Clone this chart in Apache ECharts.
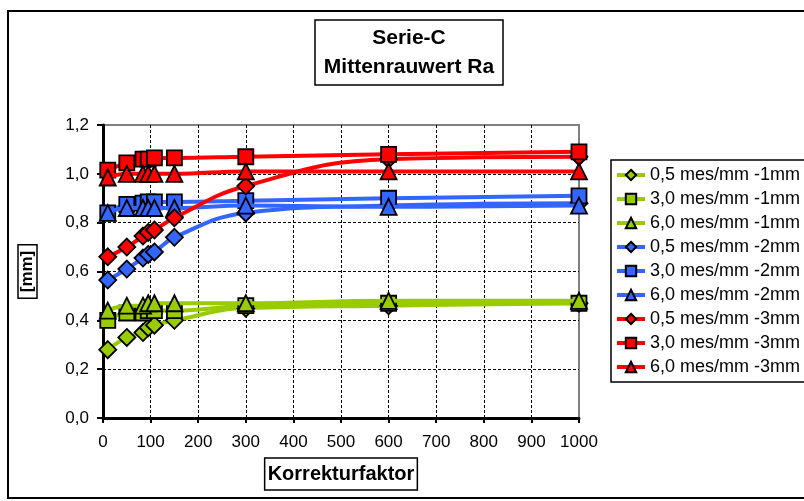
<!DOCTYPE html>
<html>
<head>
<meta charset="utf-8">
<script src="https://cdn.jsdelivr.net/npm/echarts@6/dist/echarts.min.js"></script>
<style>
  html, body { margin: 0; padding: 0; background: #fff; }
  #chart { width: 804px; height: 501px; }
</style>
</head>
<body>
<div id="chart"></div>
<script>
// ---- data ----
const xValues = [10, 50, 84, 95, 108, 150, 300, 600, 1000];

const seriesNames = [
  '0,5 mes/mm -1mm', '3,0 mes/mm -1mm', '6,0 mes/mm -1mm',
  '0,5 mes/mm -2mm', '3,0 mes/mm -2mm', '6,0 mes/mm -2mm',
  '0,5 mes/mm -3mm', '3,0 mes/mm -3mm', '6,0 mes/mm -3mm'
];

const green05 = [0.28, 0.33, 0.35, 0.37, 0.38, 0.40, 0.45, 0.46, 0.47];
const green30 = [0.40, 0.43, 0.43, 0.44, 0.44, 0.44, 0.46, 0.47, 0.47];
const green60 = [0.44, 0.46, 0.46, 0.47, 0.47, 0.47, 0.47, 0.48, 0.48];

const blue05 = [0.565, 0.61, 0.655, 0.67, 0.68, 0.74, 0.84, 0.87, 0.88];
const blue30 = [0.84, 0.875, 0.88, 0.885, 0.885, 0.885, 0.89, 0.90, 0.91];
const blue60 = [0.84, 0.86, 0.86, 0.86, 0.86, 0.86, 0.87, 0.865, 0.87];

const red05 = [0.66, 0.70, 0.745, 0.76, 0.77, 0.82, 0.95, 1.06, 1.07];
const red30 = [1.015, 1.045, 1.06, 1.06, 1.065, 1.065, 1.07, 1.08, 1.09];
const red60 = [0.985, 1.0, 1.0, 1.0, 1.0, 1.0, 1.01, 1.01, 1.01];

const xTickLabels = ['0', '100', '200', '300', '400', '500', '600', '700', '800', '900', '1000'];
const yTickLabels = ['0,0', '0,2', '0,4', '0,6', '0,8', '1,0', '1,2'];

const titleLines = ['Serie-C', 'Mittenrauwert Ra'];
const xAxisTitle = 'Korrekturfaktor';
const yAxisTitle = '[mm]';

// ---- styling ----
const FONT = '"Liberation Sans", Arial, sans-serif';
const colors = ['#99cc00', '#99cc00', '#99cc00', '#3366ff', '#3366ff', '#3366ff', '#ff0000', '#ff0000', '#ff0000'];
const symbols = ['diamond', 'rect', 'triangle', 'diamond', 'rect', 'triangle', 'diamond', 'rect', 'triangle'];
const values = [green05, green30, green60, blue05, blue30, blue60, red05, red30, red60];

const series = values.map((vals, i) => ({
  name: seriesNames[i],
  type: 'line',
  data: vals.map((v, j) => [xValues[j], v]),
  smooth: 0.45,
  symbol: symbols[i],
  symbolSize: symbols[i] === 'diamond' ? 17 : (symbols[i] === 'rect' ? 15 : 16),
  showAllSymbol: true,
  lineStyle: { color: colors[i], width: 4 },
  itemStyle: { color: colors[i], borderColor: '#000', borderWidth: 1.8 },
  emphasis: { disabled: true },
  z: 2 + i
}));

const chart = echarts.init(document.getElementById('chart'));
chart.setOption({
  animation: false,
  backgroundColor: '#fff',
  grid: {
    left: 103, right: 225, top: 125, bottom: 83,
    show: true, borderColor: '#808080', borderWidth: 2, backgroundColor: 'transparent'
  },
  xAxis: {
    type: 'value', min: 0, max: 1000, interval: 100,
    name: xAxisTitle, nameLocation: 'middle', nameGap: 40,
    nameTextStyle: {
      fontFamily: FONT, fontSize: 20, fontWeight: 'bold', color: '#000',
      borderColor: '#000', borderWidth: 1.5, padding: [6, 3, 6, 3]
    },
    axisLine: { show: true, lineStyle: { color: '#000', width: 3 } },
    axisTick: { show: true, inside: false, length: 5, lineStyle: { color: '#000', width: 2 } },
    axisLabel: {
      margin: 16, fontFamily: FONT, fontSize: 17, color: '#000',
      formatter: (v) => xTickLabels[Math.round(v / 100)]
    },
    splitLine: { show: true, showMinLine: false, showMaxLine: false,
      lineStyle: { color: '#000', width: 1, type: [3, 2] } }
  },
  yAxis: {
    type: 'value', min: 0, max: 1.2, interval: 0.2,
    name: yAxisTitle, nameLocation: 'middle', nameGap: 66, nameRotate: 90,
    nameTextStyle: {
      fontFamily: FONT, fontSize: 17, fontWeight: 'bold', color: '#000',
      borderColor: '#000', borderWidth: 1.5, padding: [1, 6, 1, 6]
    },
    axisLine: { show: true, lineStyle: { color: '#000', width: 3 } },
    axisTick: { show: true, inside: false, length: 6, lineStyle: { color: '#000', width: 2 } },
    axisLabel: {
      margin: 14, fontFamily: FONT, fontSize: 17, color: '#000',
      formatter: (v) => yTickLabels[Math.round(v / 0.2)]
    },
    splitLine: { show: true, showMinLine: false, showMaxLine: false,
      lineStyle: { color: '#000', width: 1, type: [3, 2] } }
  },
  legend: {
    orient: 'vertical', left: 611, top: 160,
    data: seriesNames,
    itemWidth: 28, itemHeight: 13, itemGap: 6,
    padding: [6, 12, 6, 4],
    borderColor: '#000', borderWidth: 1.5, backgroundColor: '#fff',
    lineStyle: { width: 4 },
    textStyle: { fontFamily: FONT, fontSize: 18, color: '#000', lineHeight: 18, padding: [0, 0, 0, 0] },
    selectedMode: false
  },
  graphic: [
    { type: 'rect', z: 100, silent: true,
      shape: { x: 8, y: 11, width: 820, height: 487 },
      style: { fill: 'transparent', stroke: '#000', lineWidth: 2 } },
    { type: 'rect', z: 100, silent: true,
      shape: { x: 315, y: 20, width: 188, height: 65 },
      style: { fill: '#fff', stroke: '#000', lineWidth: 1.5 } },
    { type: 'text', z: 101, silent: true, x: 409, y: 53,
      style: { text: titleLines.join('\n'), fontFamily: FONT, fontSize: 21, fontWeight: 'bold',
        fill: '#000', align: 'center', verticalAlign: 'middle', lineHeight: 29 } }
  ],
  series: series
});
</script>
</body>
</html>
